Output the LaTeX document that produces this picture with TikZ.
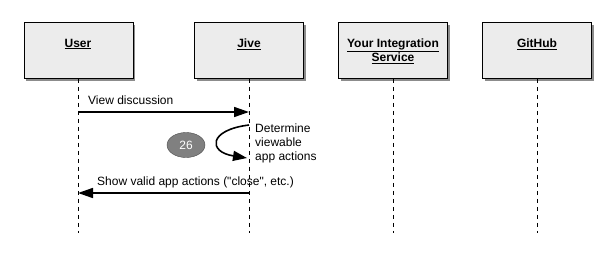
\documentclass[tikz,border=0pt]{standalone}
\usepackage{fontspec}
\setmainfont{Liberation Sans}
\usetikzlibrary{arrows.meta,shadows,shapes.geometric}

\definecolor{boxgray}{HTML}{ECECEC}
\definecolor{stepgray}{HTML}{808080}

\begin{document}
\begin{tikzpicture}[x=1pt,y=-1pt,
  actor/.style={draw,line width=0.8pt,fill=boxgray,minimum width=109pt,minimum height=56pt,
    drop shadow={shadow xshift=2pt,shadow yshift=-2pt,fill=black!45,opacity=1}},
  actorname/.style={font=\fontsize{12}{14}\selectfont\bfseries,align=center,inner sep=0pt},
  life/.style={line width=0.8pt,dash pattern=on 4pt off 4pt},
  msg/.style={line width=1.6pt,-{Triangle[length=15pt,width=10pt]}},
  msgtext/.style={font=\fontsize{12}{14}\selectfont,anchor=west,inner sep=0pt,align=left}]
\useasboundingbox (0,0) rectangle (615,258);

% participants
\node[actor] (user) at (78.5,50.5) {};
\node[actor] (jive) at (249,50.5) {};
\node[actor] (yis) at (393,50.5) {};
\node[actor] (gh) at (537,50.5) {};

\node[actorname] (usertxt) at (78,44) {\underline{User}};
\node[actorname] (jivetxt) at (249,44) {\underline{Jive}};
\node[actorname] (yistxt) at (393,51) {\underline{Your Integration}\\\underline{Service}};
\node[actorname] (ghtxt) at (537,44) {\underline{GitHub}};

% lifelines
\coordinate (userend) at (78,233);
\coordinate (jiveend) at (249,233);
\coordinate (yisend) at (393,233);
\coordinate (ghend) at (537,233);
\draw[life] (user.south -| userend) -- (userend);
\draw[life] (jive.south) -- (jiveend);
\draw[life] (yis.south) -- (yisend);
\draw[life] (gh.south) -- (ghend);

% messages
\coordinate (u1) at (78,112);
\coordinate (j1) at (249,112);
\draw[msg] (u1) -- (j1);
\node[msgtext] (viewtxt) at (88,100) {View discussion};

\coordinate (j2) at (249,125);
\coordinate (j3) at (247,158);
\draw[msg,-{Triangle[length=14pt,width=10pt]}] (j2) .. controls (208,130) and (208,152) .. (j3);
\node[msgtext] (dettxt) at (255,143) {Determine\\viewable\\app actions};

\node[ellipse,draw=black!70,fill=stepgray,minimum width=38pt,minimum height=25pt,inner sep=0pt,
  text=white,font=\fontsize{12}{14}\selectfont] (step26) at (186,145) {26};

\coordinate (j4) at (249,193);
\coordinate (u4) at (78,193);
\draw[msg] (j4) -- (u4);
\node[msgtext] (showtxt) at (97,182) {Show valid app actions (\textquotedbl close\textquotedbl, etc.)};
\end{tikzpicture}
\end{document}
